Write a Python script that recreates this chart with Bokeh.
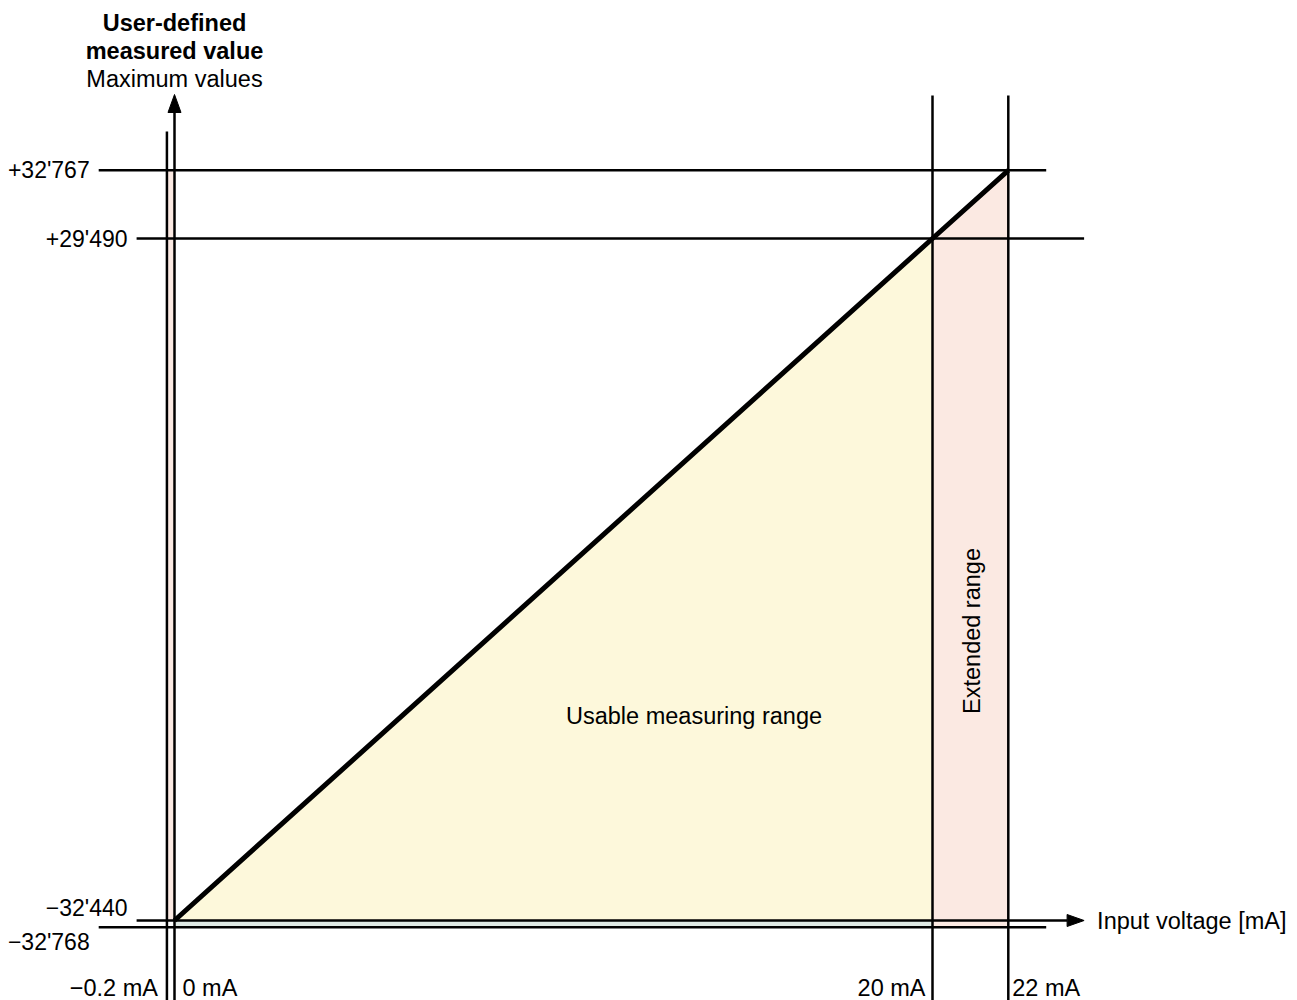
from bokeh.plotting import figure
from bokeh.models import Range1d, Label
from bokeh.embed import file_html
from bokeh.resources import INLINE

# ---------------- data ----------------
currents_mA = [-0.2, 0, 20, 22]
current_labels = ["\u22120.2 mA", "0 mA", "20 mA", "22 mA"]
measured_values = [-32768, -32440, 29490, 32767]
value_labels = ["\u221232'768", "\u221232'440", "+29'490", "+32'767"]
char_current = [0, 20, 22]
char_value = [-32440, 29490, 32767]
usable_range_mA = [0, 20]
extended_range_mA = [20, 22]

# schematic vertical scale: each value sits at the height the characteristic
# reaches at the matching current (the diagram is not to scale)
pos_of_value = dict(zip(measured_values, currents_mA))


def ypos(v):
    return pos_of_value[v]


# ---------------- layout ----------------
W, H = 1297, 1000
OFF = 0                           # page offset of the plot
PX_X, PX_Y = 37.9, 34.1          # pixels per mA / per schematic unit
ORG_X, ORG_Y = 174, 920          # page pixel of (0 mA, -32'440)
x0 = -(ORG_X - OFF) / PX_X
x1 = x0 + W / PX_X
y1 = (ORG_Y - OFF) / PX_Y
y0 = y1 - H / PX_Y


def fx(px):
    return x0 + (px - OFF) / PX_X


def fy(py):
    return y1 - (py - OFF) / PX_Y


FONT = "Liberation Sans"
FS = "23.5px"
FS_VAL = "23px"
BLACK = "#000000"
YELLOW = "#fdf8db"
PINK = "#fbe9e2"
STRIP = "#dfe9e4"

p = figure(width=W, height=H, x_range=Range1d(x0, x1), y_range=Range1d(y0, y1),
           output_backend="svg", toolbar_location=None, min_border=0,
           x_axis_type=None, y_axis_type=None)
p.grid.visible = False
p.outline_line_color = None
p.background_fill_color = "white"
p.border_fill_color = "white"

v_lo, v_hi = measured_values[0], measured_values[-1]
v_start, v_use_end, v_ext_end = char_value

# ---------------- fills ----------------
p.patch([usable_range_mA[0], usable_range_mA[1], usable_range_mA[1]],
        [ypos(v_start), ypos(v_use_end), ypos(v_start)],
        fill_color=YELLOW, line_color=None)
p.patch([extended_range_mA[0], extended_range_mA[0], extended_range_mA[1], extended_range_mA[1]],
        [ypos(v_lo), ypos(v_use_end), ypos(v_ext_end), ypos(v_lo)],
        fill_color=PINK, line_color=None)
p.quad(left=[currents_mA[0]], right=[currents_mA[1]], bottom=[ypos(v_start)], top=[ypos(v_hi)],
       fill_color=PINK, line_color=None)
p.quad(left=[usable_range_mA[0]], right=[usable_range_mA[1]], bottom=[ypos(v_lo)], top=[ypos(v_start)],
       fill_color=STRIP, line_color=None)

# ---------------- horizontal lines ----------------
TIP_X = 24.0
HEAD_LEN_X = 17 / PX_X
LW = 2.5
hx0, hx1, hy = [], [], []
for v, lab in zip(measured_values, value_labels):
    long_lab = lab in (value_labels[0], value_labels[3])
    left = -2.0 if long_lab else -1.0
    right = 23.0 if long_lab else TIP_X
    if v == v_start:
        right = TIP_X - HEAD_LEN_X
    hx0.append(left)
    hx1.append(right)
    hy.append(ypos(v))
p.segment(x0=hx0, y0=hy, x1=hx1, y1=hy, line_color=BLACK, line_width=LW)

# x-axis arrow head
hw = 6 / PX_Y
p.patch([TIP_X, TIP_X - HEAD_LEN_X, TIP_X - HEAD_LEN_X],
        [ypos(v_start), ypos(v_start) + hw, ypos(v_start) - hw],
        fill_color=BLACK, line_color=BLACK, line_width=1)

# ---------------- vertical lines ----------------
TOP_Y = fy(94)
HEAD_LEN_Y = 18 / PX_Y
bottom = y0 - 1
vx, vy0, vy1 = [], [], []
for c in currents_mA:
    vx.append(c)
    vy0.append(bottom)
    if c == currents_mA[0]:
        vy1.append(fy(131))
    elif c == currents_mA[1]:
        vy1.append(TOP_Y - HEAD_LEN_Y)
    else:
        vy1.append(fy(95))
p.segment(x0=vx, y0=vy0, x1=vx, y1=vy1, line_color=BLACK, line_width=LW)

vw = 6.5 / PX_X
p.patch([currents_mA[1], currents_mA[1] - vw, currents_mA[1] + vw],
        [TOP_Y, TOP_Y - HEAD_LEN_Y, TOP_Y - HEAD_LEN_Y],
        fill_color=BLACK, line_color=BLACK, line_width=1)

# ---------------- characteristic ----------------
p.line(char_current, [ypos(v) for v in char_value], line_color=BLACK, line_width=5,
       line_join="miter")


# ---------------- texts ----------------
def add_label(x, y, text, align="left", baseline="middle", size=FS, style="normal",
              x_offset=0, angle=0):
    p.add_layout(Label(x=x, y=y, text=text, text_align=align, text_baseline=baseline,
                       text_font=FONT, text_font_size=size, text_font_style=style,
                       text_color=BLACK, x_offset=x_offset, angle=angle,
                       angle_units="deg"))


# value labels
dy_px = {value_labels[0]: -15, value_labels[1]: 13, value_labels[2]: 0, value_labels[3]: 0}
for v, lab, left in zip(measured_values, value_labels, hx0):
    add_label(left, ypos(v) + dy_px[lab] / PX_Y, lab, align="right", x_offset=-9, size=FS_VAL)

# current labels
cur_offsets = [-9, 8, -7, 4]
cur_align = ["right", "left", "right", "left"]
for c, lab, off, al in zip(currents_mA, current_labels, cur_offsets, cur_align):
    add_label(c, fy(987), lab, align=al, x_offset=off)

# axis titles
add_label(currents_mA[1], fy(22), "User-defined", align="center", style="bold")
add_label(currents_mA[1], fy(50), "measured value", align="center", style="bold")
add_label(currents_mA[1], fy(78), "Maximum values", align="center")
add_label(TIP_X, ypos(v_start), "Input voltage [mA]", align="left", x_offset=13)

# region labels
add_label(fx(693.5), fy(715), "Usable measuring range", align="center")
add_label(sum(extended_range_mA) / 2, fy(630.5), "Extended range", align="center",
          x_offset=2, angle=90)

open("out.html", "w").write(file_html(p, INLINE))
